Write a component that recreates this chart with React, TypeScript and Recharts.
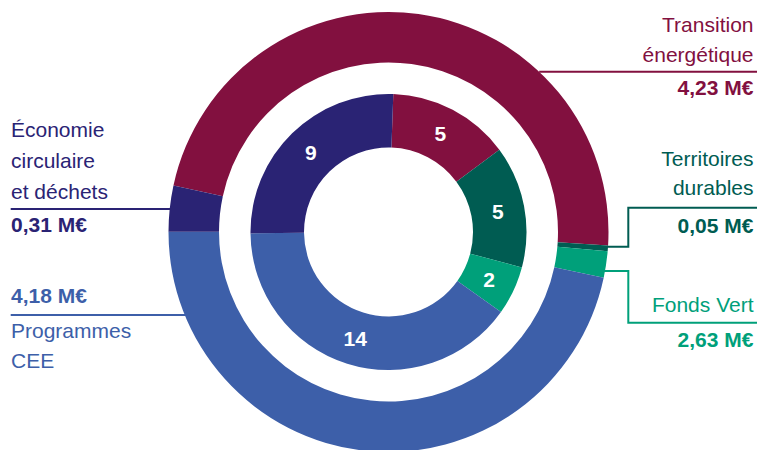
import React from "react";
import { PieChart, Pie, Cell } from "recharts";

// Outer ring: budget categories (amounts shown in labels, arc shares)
const outerNames = [
  "Transition énergétique",
  "Territoires durables",
  "Fonds Vert",
  "Programmes CEE",
  "Économie circulaire et déchets",
];
const outerNameLines = [
  ["Transition", "énergétique"],
  ["Territoires", "durables"],
  ["Fonds Vert"],
  ["Programmes", "CEE"],
  ["Économie", "circulaire", "et déchets"],
];
const outerAmounts = ["4,23 M€", "0,05 M€", "2,63 M€", "4,18 M€", "0,31 M€"];
const outerArcShares = [4.23, 0.037, 0.173, 4.15, 0.3];

// Inner ring: counts
const innerCounts = [5, 5, 2, 14, 9];

const colors = ["#82103F", "#005C52", "#00A07A", "#3D5FA9", "#2A2374"];

const outerData = outerNames.map((name, i) => ({ name, value: outerArcShares[i] }));
const innerData = outerNames.map((name, i) => ({ name, value: innerCounts[i] }));

const FONT = "'Liberation Sans', Arial, Helvetica, sans-serif";
const FS = 21;
const RAD = Math.PI / 180;

const renderInnerLabel = (props: any) => {
  const { cx, cy, midAngle, innerRadius, outerRadius, value } = props;
  const r = (innerRadius + outerRadius) / 2;
  const x = cx + r * Math.cos(-midAngle * RAD);
  const y = cy + r * Math.sin(-midAngle * RAD);
  return (
    <text
      x={x}
      y={y}
      fill="#ffffff"
      fontFamily={FONT}
      fontSize={FS}
      fontWeight="bold"
      textAnchor="middle"
      dominantBaseline="central"
    >
      {value}
    </text>
  );
};

const renderOuterLabel = (props: any) => {
  const { cx, cy, outerRadius, index } = props;
  const R = outerRadius;
  const color = colors[index];
  const arcX = (y: number, side: number) => cx + side * Math.sqrt(R * R - (y - cy) * (y - cy));
  const lines = outerNameLines[index];
  const amount = outerAmounts[index];
  const rightX = 753.5;
  const leftX = 11;
  const W = 757;
  const txt = (x: number, y: number, s: string, bold: boolean, anchor: string, key: string) => (
    <text
      key={key}
      x={x}
      y={y}
      fill={color}
      fontFamily={FONT}
      fontSize={FS}
      fontWeight={bold ? "bold" : "normal"}
      textAnchor={anchor as any}
    >
      {s}
    </text>
  );
  if (index === 0) {
    const ly = 71.7;
    return (
      <g>
        {txt(rightX, 31.7, lines[0], false, "end", "a")}
        {txt(rightX, 61.7, lines[1], false, "end", "b")}
        <path d={`M${arcX(ly, 1)},${ly}H${W}`} stroke={color} strokeWidth={2} fill="none" />
        {txt(rightX, 95, amount, true, "end", "c")}
      </g>
    );
  }
  if (index === 1) {
    const ly = 246.7;
    return (
      <g>
        {txt(rightX, 166, lines[0], false, "end", "a")}
        {txt(rightX, 195, lines[1], false, "end", "b")}
        <path d={`M${arcX(ly, 1) - 1},${ly}H628.3V207.7H${W}`} stroke={color} strokeWidth={2} fill="none" />
        {txt(rightX, 233.3, amount, true, "end", "c")}
      </g>
    );
  }
  if (index === 2) {
    const ly = 271;
    return (
      <g>
        {txt(rightX, 311.7, lines[0], false, "end", "a")}
        <path d={`M${arcX(ly, 1) - 1},${ly}H628.3V322.7H${W}`} stroke={color} strokeWidth={2} fill="none" />
        {txt(rightX, 346.7, amount, true, "end", "c")}
      </g>
    );
  }
  if (index === 3) {
    const ly = 315;
    return (
      <g>
        {txt(leftX, 303.3, amount, true, "start", "c")}
        <path d={`M10.7,${ly}H${arcX(ly, -1) + 1}`} stroke={color} strokeWidth={2} fill="none" />
        {txt(leftX, 338.3, lines[0], false, "start", "a")}
        {txt(leftX, 368.3, lines[1], false, "start", "b")}
      </g>
    );
  }
  const ly = 209;
  return (
    <g>
      {txt(leftX, 137.3, lines[0], false, "start", "a")}
      {txt(leftX, 168.3, lines[1], false, "start", "b")}
      {txt(leftX, 199.3, lines[2], false, "start", "d")}
      <path d={`M10.7,${ly}H${arcX(ly, -1) + 1}`} stroke={color} strokeWidth={2} fill="none" />
      {txt(leftX, 231.7, amount, true, "start", "c")}
    </g>
  );
};

export default function App() {
  return (
    <div
      style={{
        position: "absolute",
        left: 0,
        top: 0,
        width: 757,
        height: 450,
        background: "#ffffff",
        overflow: "hidden",
      }}
    >
      <PieChart width={757} height={450} margin={{ top: 0, right: 0, bottom: 0, left: 0 }}>
        <Pie
          data={outerData}
          dataKey="value"
          nameKey="name"
          cx={388.5}
          cy={232}
          innerRadius={169.5}
          outerRadius={220}
          startAngle={167.8}
          endAngle={167.8 - 360}
          stroke="none"
          isAnimationActive={false}
          label={renderOuterLabel}
          labelLine={false}
        >
          {outerData.map((d, i) => (
            <Cell key={d.name} fill={colors[i]} />
          ))}
        </Pie>
        <Pie
          data={innerData}
          dataKey="value"
          nameKey="name"
          cx={388.5}
          cy={232}
          innerRadius={84.5}
          outerRadius={138}
          startAngle={88}
          endAngle={88 - 360}
          stroke="none"
          isAnimationActive={false}
          label={renderInnerLabel}
          labelLine={false}
        >
          {innerData.map((d, i) => (
            <Cell key={d.name} fill={colors[i]} />
          ))}
        </Pie>
      </PieChart>
    </div>
  );
}
